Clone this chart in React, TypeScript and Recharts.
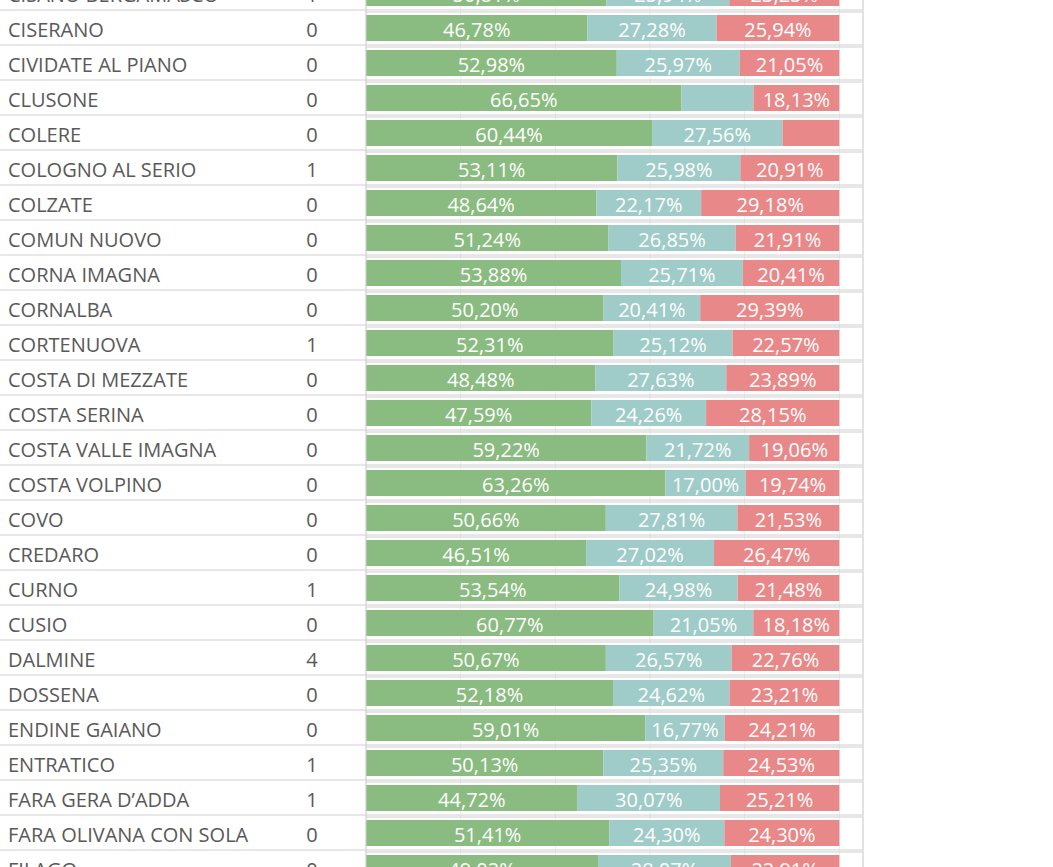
import { BarChart, Bar, XAxis, YAxis, CartesianGrid, ReferenceLine, LabelList } from "recharts";

const comuni = [
  "CISANO BERGAMASCO", "CISERANO", "CIVIDATE AL PIANO", "CLUSONE", "COLERE", "COLOGNO AL SERIO",
  "COLZATE", "COMUN NUOVO", "CORNA IMAGNA", "CORNALBA", "CORTENUOVA", "COSTA DI MEZZATE",
  "COSTA SERINA", "COSTA VALLE IMAGNA", "COSTA VOLPINO", "COVO", "CREDARO", "CURNO", "CUSIO",
  "DALMINE", "DOSSENA", "ENDINE GAIANO", "ENTRATICO", "FARA GERA D\u2019ADDA", "FARA OLIVANA CON SOLA",
  "FILAGO",
];
const conteggi = [1, 0, 0, 0, 0, 1, 0, 0, 0, 0, 1, 0, 0, 0, 0, 0, 0, 1, 0, 4, 0, 0, 1, 1, 0, 0];
const verde = [
  50.81, 46.78, 52.98, 66.65, 60.44, 53.11, 48.64, 51.24, 53.88, 50.2, 52.31, 48.48, 47.59,
  59.22, 63.26, 50.66, 46.51, 53.54, 60.77, 50.67, 52.18, 59.01, 50.13, 44.72, 51.41, 49.02,
];
const azzurro = [
  25.94, 27.28, 25.97, 15.22, 27.56, 25.98, 22.17, 26.85, 25.71, 20.41, 25.12, 27.63, 24.26,
  21.72, 17.0, 27.81, 27.02, 24.98, 21.05, 26.57, 24.62, 16.77, 25.35, 30.07, 24.3, 28.07,
];
const rosso = [
  23.25, 25.94, 21.05, 18.13, 12.0, 20.91, 29.18, 21.91, 20.41, 29.39, 22.57, 23.89, 28.15,
  19.06, 19.74, 21.53, 26.47, 21.48, 18.18, 22.76, 23.21, 24.21, 24.53, 25.21, 24.3, 22.91,
];
const tickPct = [0, 20, 40, 60, 80, 100];

const ROW_H = 35;
const FONT = "'Open Sans', 'Noto Sans', sans-serif";
const FONT_SIZE = 20;
const GRAY_TEXT = "#595959";
const BORDER = "#cfcfcf";

const data = comuni.map((nome, i) => ({
  nome,
  verde: verde[i],
  azzurro: azzurro[i],
  rosso: rosso[i],
}));

const fmt = (v: number) => v.toFixed(2).replace(".", ",") + "%";

function RowTick(props: any) {
  const { y, payload } = props;
  const i = comuni.indexOf(payload.value);
  const sep = y + ROW_H / 2;
  return (
    <g>
      <text x={8} y={y + 9.5} fill={GRAY_TEXT} fontSize={FONT_SIZE} fontFamily={FONT}>
        {payload.value}
      </text>
      <text x={312} y={y + 9.5} fill={GRAY_TEXT} fontSize={FONT_SIZE} fontFamily={FONT} textAnchor="middle">
        {conteggi[i]}
      </text>
      <line x1={0} x2={862} y1={sep} y2={sep} stroke={BORDER} strokeWidth={1.2} />
      <line x1={366} x2={862} y1={sep + 2} y2={sep + 2} stroke={BORDER} strokeWidth={1.2} />
    </g>
  );
}

// hide the label when the segment is too narrow, like the original
function PctLabel(props: any) {
  const { x, y, width, height, value } = props;
  if (width < 75) return null;
  return (
    <text
      x={x + width / 2}
      y={y + height / 2 + 9}
      textAnchor="middle"
      fill="#ffffff"
      fontSize={FONT_SIZE}
      fontFamily={FONT}
    >
      {fmt(value)}
    </text>
  );
}

export default function App() {
  return (
    <div style={{ position: "absolute", left: 0, top: 0, width: 1053, height: 867, overflow: "hidden", background: "#fff" }}>
      <div style={{ marginTop: -25 }}>
        <BarChart
          width={1053}
          height={ROW_H * comuni.length}
          data={data}
          layout="vertical"
          margin={{ top: 0, right: 190, bottom: 0, left: 0 }}
          barSize={26}
        >
          <XAxis type="number" domain={[0, 105]} ticks={tickPct} hide />
          <YAxis
            type="category"
            dataKey="nome"
            width={366}
            interval={0}
            tick={<RowTick />}
            tickLine={false}
            axisLine={{ stroke: BORDER }}
          />
          <Bar dataKey="verde" stackId="a" fill="#8abb80" isAnimationActive={false}>
            <LabelList dataKey="verde" content={<PctLabel />} />
          </Bar>
          <Bar dataKey="azzurro" stackId="a" fill="#9fcbc8" isAnimationActive={false}>
            <LabelList dataKey="azzurro" content={<PctLabel />} />
          </Bar>
          <Bar dataKey="rosso" stackId="a" fill="#e98888" isAnimationActive={false}>
            <LabelList dataKey="rosso" content={<PctLabel />} />
          </Bar>
          <CartesianGrid horizontal={false} stroke="rgba(0,0,0,0.08)" />
          <ReferenceLine x={105} stroke={BORDER} />
        </BarChart>
      </div>
    </div>
  );
}
